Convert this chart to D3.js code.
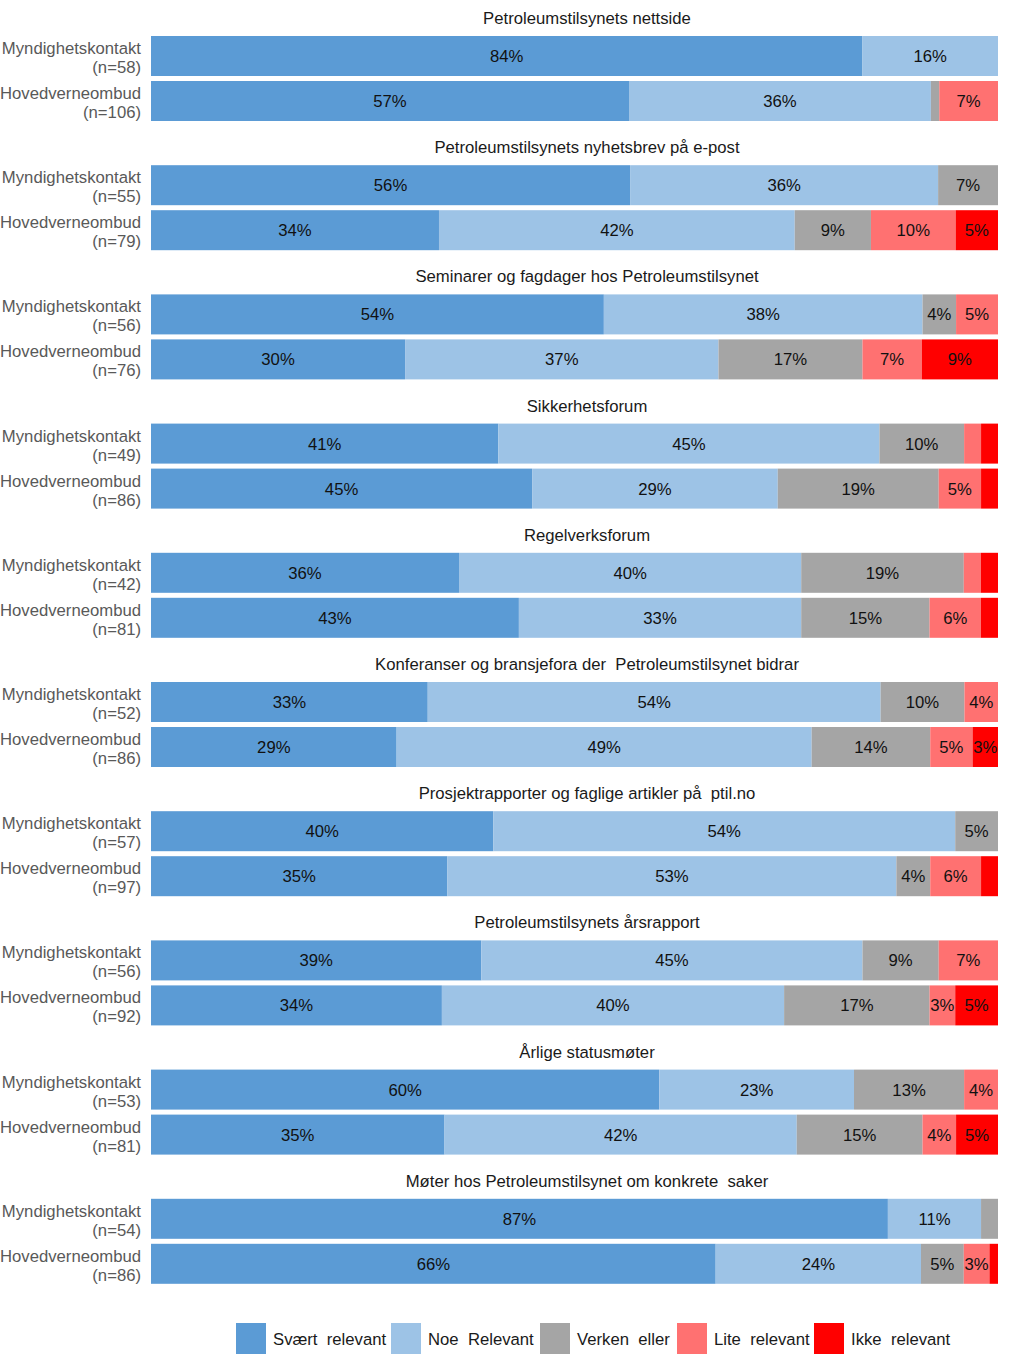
<!DOCTYPE html>
<html><head><meta charset="utf-8">
<script src="https://cdn.jsdelivr.net/npm/d3@7"></script>
<style>
body{margin:0;background:#fff;}
text{font-family:"Liberation Sans",Arial,sans-serif;}
</style></head>
<body><svg id="c" width="1024" height="1366"></svg>
<script>
const titles = [
 "Petroleumstilsynets nettside",
 "Petroleumstilsynets nyhetsbrev på e-post",
 "Seminarer og fagdager hos Petroleumstilsynet",
 "Sikkerhetsforum",
 "Regelverksforum",
 "Konferanser og bransjefora der  Petroleumstilsynet bidrar",
 "Prosjektrapporter og faglige artikler på  ptil.no",
 "Petroleumstilsynets årsrapport",
 "Årlige statusmøter",
 "Møter hos Petroleumstilsynet om konkrete  saker"
];
const groups = ["Myndighetskontakt","Hovedverneombud"];
const categories = ["Svært  relevant","Noe  Relevant","Verken  eller","Lite  relevant","Ikke  relevant"];
const colors = ["#5B9BD5","#9DC3E6","#A5A5A5","#FF7171","#FF0000"];
const nMynd = [58,55,56,49,42,52,57,56,53,54];
const nHoved = [106,79,76,86,81,86,97,92,81,86];
// values per panel: [Svært, Noe, Verken, Lite, Ikke]
const valMynd = [
 [84,16,0,0,0],
 [56,36,7,0,0],
 [54,38,4,5,0],
 [41,45,10,2,2],
 [36,40,19,2,2],
 [33,54,10,4,0],
 [40,54,5,0,0],
 [39,45,9,7,0],
 [60,23,13,4,0],
 [87,11,2,0,0]
];
const valHoved = [
 [57,36,1,7,0],
 [34,42,9,10,5],
 [30,37,17,7,9],
 [45,29,19,5,2],
 [43,33,15,6,2],
 [29,49,14,5,3],
 [35,53,4,6,2],
 [34,40,17,3,5],
 [35,42,15,4,5],
 [66,24,5,3,1]
];

const svg = d3.select("#c");
const x0 = 151, x1 = 998;
const FS = 16.7;
const panelY = d3.scaleBand().domain(d3.range(titles.length)).range([36, 36 + 10*129.2]).padding(0);
const rowY = d3.scaleBand().domain([0,1]).range([0,85]).paddingInner(5/45).paddingOuter(0);

titles.forEach((t,i)=>{
  const g = svg.append("g").attr("transform",`translate(0,${panelY(i)})`);
  g.append("text").attr("x",587).attr("y",-12).attr("text-anchor","middle")
    .attr("font-size",FS).attr("fill","#1a1a1a").style("white-space","pre").text(t);
  [valMynd[i], valHoved[i]].forEach((vals,r)=>{
    const total = d3.sum(vals);
    const xs = d3.scaleLinear().domain([0,total]).range([x0,x1]);
    const cum = d3.cumsum(vals);
    const segs = vals.map((v,k)=>({v,k,start:cum[k]-v,end:cum[k]}));
    const y = rowY(r), h = rowY.bandwidth();
    const rg = g.append("g");
    rg.selectAll("rect").data(segs.filter(d=>d.v>0)).join("rect")
      .attr("x",d=>xs(d.start)).attr("width",d=>xs(d.end)-xs(d.start))
      .attr("y",y).attr("height",h).attr("fill",d=>colors[d.k]);
    rg.selectAll("text.v").data(segs.filter(d=>d.v>=3)).join("text").attr("class","v")
      .attr("x",d=>(xs(d.start)+xs(d.end))/2).attr("y",y+h/2+6)
      .attr("text-anchor","middle").attr("font-size",FS).attr("fill","#111")
      .text(d=>d.v+"%");
    const n = r===0 ? nMynd[i] : nHoved[i];
    const lab = g.append("text").attr("text-anchor","end").attr("font-size",FS).attr("fill","#595959");
    lab.append("tspan").attr("x",141).attr("y",y+h/2-2).text(groups[r]);
    lab.append("tspan").attr("x",141).attr("y",y+h/2+17).text(`(n=${n})`);
  });
});

// legend
const legX = [236,391,540,677,814];
const lg = svg.append("g").attr("transform","translate(0,1323)");
categories.forEach((c,k)=>{
  lg.append("rect").attr("x",legX[k]).attr("y",0).attr("width",30).attr("height",31).attr("fill",colors[k]);
  lg.append("text").attr("x",legX[k]+37).attr("y",22).attr("font-size",FS).attr("fill","#1a1a1a")
    .style("white-space","pre").text(c);
});
</script></body></html>
